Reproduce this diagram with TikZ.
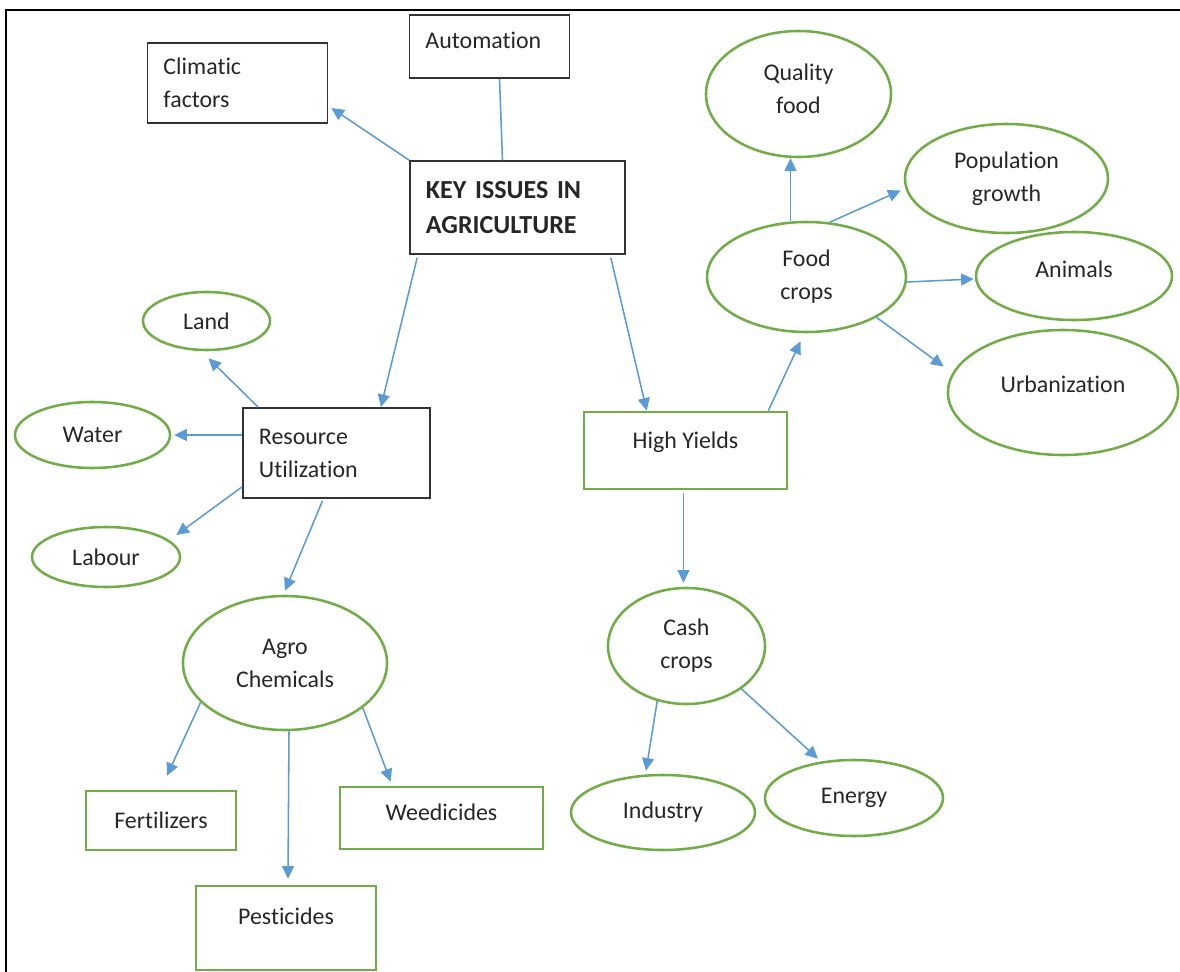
\documentclass[tikz,border=0pt]{standalone}
\usepackage{fontspec}
\setmainfont{Carlito}[Ligatures=NoCommon]
\usetikzlibrary{arrows.meta, calc, shapes.geometric}
\definecolor{linkblue}{RGB}{91,155,213}
\definecolor{leafgreen}{RGB}{112,173,71}
\definecolor{inkgray}{RGB}{38,38,38}

\begin{document}
\begin{tikzpicture}[
    x=0.025cm, y=-0.025cm,
    font=\fontsize{17}{23.5}\selectfont,
    >={Triangle[length=9pt,width=8.5pt]},
    topic/.style   = {rectangle, draw=black!80, line width=1.2pt, text=inkgray,
                      align=left, inner xsep=0.4cm, inner ysep=0pt},
    leafbox/.style = {rectangle, draw=leafgreen, line width=1.8pt, text=inkgray,
                      align=center, inner sep=0pt},
    leaf/.style    = {ellipse, draw=leafgreen, line width=1.8pt, text=inkgray,
                      align=center, inner sep=0pt},
    arr/.style     = {->, linkblue, line width=1.1pt},
]
\useasboundingbox (0,0) rectangle (1180,972);

% ---- frame ------------------------------------------------------------------
\draw[line width=1.8pt] (6,972) -- (6,10) -- (1180,10);

% ---- centre and black boxes --------------------------------------------------
\node[topic, text width=4.575cm, minimum height=2.325cm,
      font=\fontsize{18.5}{24.5}\selectfont\bfseries] (key) at (517.5,207.5) {KEY ISSUES IN\\AGRICULTURE};
\node[topic, text width=3.7cm, minimum height=2cm] (clim) at (237.5,83) {Climatic\\factors};
\node[topic, text width=3.2cm, minimum height=1.575cm, text depth=9pt] (auto) at (489.5,46.5) {Automation};
\node[topic, text width=3.875cm, minimum height=2.25cm] (resu) at (336.5,453) {Resource\\Utilization};
\node[leafbox, minimum width=5.075cm, minimum height=1.925cm, text depth=15pt] (high) at (685.5,450.5) {High Yields};

\draw[linkblue, line width=1.1pt] ($(auto.south)+(10,0)$) -- ($(key.north)+(-15,0)$);
\draw[arr] (key.north west) -- ($(clim.east)+(3,25)$);
\draw[arr] ($(key.south west)+(8,3)$) -- ($(resu.north east)+(-50,0)$);
\draw[arr] ($(key.south east)+(-15,3)$) -- ($(high.north west)+(64,0)$);

% ---- resources (left) -------------------------------------------------------
\node[leaf, minimum width=3.175cm, minimum height=1.45cm] (land) at (206.5,321) {Land};
\node[leaf, minimum width=3.875cm, minimum height=1.65cm] (water) at (92.5,435) {Water};
\node[leaf, minimum width=3.7cm, minimum height=1.5cm] (lab) at (106,557) {Labour};
\node[leaf, minimum width=5.1cm, minimum height=3.35cm] (agro) at (285,663) {Agro\\Chemicals};

\draw[arr] ($(resu.north west)+(16,0)$) -- ($(land.south)+(2,7)$);
\draw[arr] (resu.west |- water.east) -- ($(water.east)+(3,0)$);
\draw[arr] ($(resu.south west)+(0,-12)$) -- ($(lab.east)+(-5,-22)$);
\draw[arr] ($(resu.south)+(-14,2)$) -- ($(agro.north)+(0,-4)$);

% ---- agro chemicals ---------------------------------------------------------
\node[leafbox, minimum width=3.75cm, minimum height=1.475cm] (fert) at (161,820.5) {Fertilizers};
\node[leafbox, minimum width=4.5cm, minimum height=2.1cm, text depth=17pt] (pest) at (286,928) {Pesticides};
\node[leafbox, minimum width=5.075cm, minimum height=1.55cm, text depth=8.5pt] (weed) at (441.5,818) {Weedicides};

\draw[arr] (agro.205) -- ($(fert.north)+(6,-14)$);
\draw[arr] ($(agro.south)+(4,0)$) -- ($(pest.north)+(2,-6)$);
\draw[arr] (agro.-30) -- ($(weed.north west)+(52,-4)$);

% ---- yields (right) ---------------------------------------------------------
\node[leaf, minimum width=4.975cm, minimum height=2.75cm] (food) at (806.5,277) {Food\\crops};
\node[leaf, minimum width=4.625cm, minimum height=3.15cm, text depth=8pt] (qual) at (798.5,94) {Quality\\food};
\node[leaf, minimum width=5.075cm, minimum height=2.725cm] (pop) at (1006.5,178.5) {Population\\growth};
\node[leaf, minimum width=4.9cm, minimum height=2.2cm, text depth=10pt] (anim) at (1074,276) {Animals};
\node[leaf, minimum width=5.75cm, minimum height=3.125cm, text depth=12.5pt] (urb) at (1063,392.5) {Urbanization};
\node[leaf, minimum width=3.925cm, minimum height=2.9cm] (cash) at (686.5,646) {Cash\\crops};
\node[leaf, minimum width=4.6cm, minimum height=1.875cm] (ind) at (663,812.5) {Industry};
\node[leaf, minimum width=4.45cm, minimum height=1.9cm] (energy) at (854,798) {Energy};

\draw[arr] ($(high.north east)+(-20,0)$) -- ($(food.south)+(-6,8)$);
\draw[arr] ($(high.south)+(-2,3)$) -- ($(cash.north)+(-3,-4)$);
\draw[arr] ($(food.north)+(-16,0)$) -- ($(qual.south)+(-8,0)$);
\draw[arr] (food.67) -- ($(pop.west)+(-3,12)$);
\draw[arr] ($(food.east)+(0,5)$) -- ($(anim.west)+(-1,3)$);
\draw[arr] (food.-30) -- ($(urb.west)+(-3,-26)$);
\draw[arr] (cash.-118) -- ($(ind.north)+(-17,-3)$);
\draw[arr] (cash.-38) -- ($(energy.north)+(-36,0)$);
\end{tikzpicture}
\end{document}
